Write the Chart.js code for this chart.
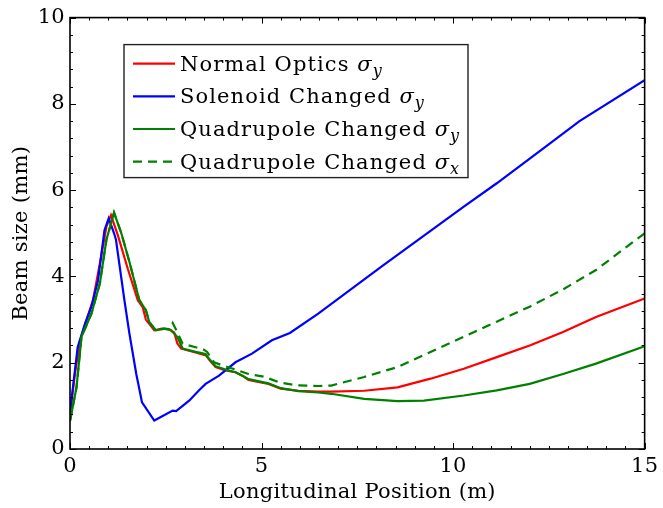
<!DOCTYPE html>
<html><head><meta charset="utf-8">
<script src="https://cdn.jsdelivr.net/npm/chart.js@4/dist/chart.umd.min.js"></script>
<style>html,body{margin:0;padding:0;background:#fff}</style>
</head><body>
<canvas id="c" width="663" height="508"></canvas>
<script>
// ---- data ----
const xTitle = 'Longitudinal Position (m)';
const yTitle = 'Beam size (mm)';
const seriesNames = ['Normal Optics ', 'Solenoid Changed ', 'Quadrupole Changed ', 'Quadrupole Changed '];
const seriesSubs = ['y', 'y', 'y', 'x'];

const redX = [0, 0.13, 0.26, 0.47, 0.6, 0.78, 0.95, 1.07, 1.25, 1.5, 1.77, 1.9, 1.98, 2.2, 2.4, 2.6, 2.72, 2.8, 2.9, 3.3, 3.55, 3.65, 3.8, 4.06, 4.32, 4.5, 4.66, 5.18, 5.5, 5.96, 6.48, 6.82, 7.68, 8.55, 9.41, 10.28, 11.14, 12.0, 12.87, 13.73, 15];
const redY = [0.8, 1.75, 2.5, 3.1, 3.45, 4.3, 5.15, 5.42, 4.95, 4.2, 3.45, 3.28, 3.0, 2.75, 2.79, 2.77, 2.7, 2.45, 2.33, 2.23, 2.17, 2.05, 1.9, 1.82, 1.78, 1.7, 1.6, 1.51, 1.4, 1.35, 1.33, 1.33, 1.35, 1.43, 1.63, 1.86, 2.13, 2.4, 2.71, 3.06, 3.49];

const blueX = [0, 0.2, 0.39, 0.56, 0.73, 0.9, 1.01, 1.15, 1.2, 1.42, 1.55, 1.73, 1.88, 2.2, 2.68, 2.77, 3.11, 3.37, 3.54, 3.89, 4.32, 4.75, 5.27, 5.74, 6.48, 8.12, 10.28, 11.14, 12.4, 13.3, 15];
const blueY = [0.85, 2.36, 2.9, 3.3, 3.9, 5.07, 5.35, 5.0, 4.85, 3.45, 2.68, 1.74, 1.08, 0.66, 0.89, 0.88, 1.12, 1.36, 1.51, 1.7, 2.01, 2.21, 2.52, 2.69, 3.14, 4.22, 5.62, 6.16, 7.0, 7.6, 8.55];

const greenX = [0, 0.17, 0.3, 0.56, 0.78, 0.95, 1.15, 1.34, 1.55, 1.81, 1.98, 2.07, 2.24, 2.46, 2.63, 2.8, 2.94, 3.28, 3.54, 3.63, 3.8, 4.06, 4.32, 4.5, 4.66, 5.18, 5.5, 5.96, 6.48, 6.82, 7.68, 8.55, 9.24, 10.28, 11.14, 12.0, 12.87, 13.73, 15];
const greenY = [0.65, 1.43, 2.6, 3.14, 3.84, 4.85, 5.48, 5.0, 4.34, 3.45, 3.22, 2.94, 2.75, 2.79, 2.76, 2.6, 2.33, 2.25, 2.2, 2.09, 1.92, 1.84, 1.78, 1.7, 1.62, 1.52, 1.41, 1.34, 1.31, 1.28, 1.16, 1.11, 1.12, 1.24, 1.36, 1.51, 1.74, 1.98, 2.38];

const dashX = [0, 0.17, 0.3, 0.56, 0.78, 0.95, 1.15, 1.34, 1.55, 1.81, 1.98, 2.07, 2.24, 2.46, 2.6, 2.68, 2.75, 2.94, 3.28, 3.5, 3.58, 3.76, 3.97, 4.32, 4.66, 5.09, 5.44, 5.87, 6.48, 6.82, 7.68, 8.55, 9.41, 10.28, 11.14, 12.0, 12.87, 13.73, 15];
const dashY = [0.65, 1.43, 2.6, 3.14, 3.84, 4.85, 5.48, 5.0, 4.34, 3.45, 3.22, 2.94, 2.75, 2.79, 2.78, 2.92, 2.8, 2.44, 2.36, 2.3, 2.25, 2.01, 1.94, 1.84, 1.74, 1.67, 1.55, 1.48, 1.46, 1.47, 1.67, 1.9, 2.25, 2.6, 2.95, 3.3, 3.7, 4.15, 5.0];

const xMajorStep = 5, xMinorStep = 0.5, yMajorStep = 2, yMinorStep = 0.4;

const pts = (xs, ys) => xs.map((x, i) => ({x, y: ys[i]}));

const FONT = '"DejaVu Serif", serif';
const SPACING = '0.3px';

const boxPlugin = {
  id: 'boxTicks',
  beforeDraw(chart) { chart.ctx.letterSpacing = SPACING; },
  afterDraw(chart) {
    const {ctx, chartArea: a, scales: {x, y}} = chart;
    ctx.save();
    ctx.letterSpacing = '0px';
    ctx.strokeStyle = '#000';
    ctx.lineWidth = 1;
    const tick = (px, py, dx, dy) => { ctx.beginPath(); ctx.moveTo(px, py); ctx.lineTo(px + dx, py + dy); ctx.stroke(); };
    for (let v = x.min; v <= x.max + 1e-9; v += xMinorStep) {
      const major = Math.abs(v / xMajorStep - Math.round(v / xMajorStep)) < 1e-6;
      const L = major ? 6 : 3;
      const px = Math.round(x.getPixelForValue(v)) + 0.5;
      tick(px, a.bottom, 0, -L);
      tick(px, a.top, 0, L);
    }
    for (let v = y.min; v <= y.max + 1e-9; v += yMinorStep) {
      const major = Math.abs(v / yMajorStep - Math.round(v / yMajorStep)) < 1e-6;
      const L = major ? 6 : 3;
      const py = Math.round(y.getPixelForValue(v)) + 0.5;
      tick(a.left, py, L, 0);
      tick(a.right, py, -L, 0);
    }
    ctx.lineWidth = 1.6;
    ctx.strokeRect(a.left, a.top, a.right - a.left, a.bottom - a.top);

    // legend
    const lx = a.left + 54, ly = a.top + 27, lw = 344, lh = 133;
    ctx.fillStyle = '#fff';
    ctx.fillRect(lx, ly, lw, lh);
    ctx.lineWidth = 1.4;
    ctx.strokeStyle = '#222';
    ctx.strokeRect(lx, ly, lw, lh);
    chart.data.datasets.forEach((ds, i) => {
      const cy = ly + 19 + i * 32.7;
      ctx.strokeStyle = ds.borderColor;
      ctx.lineWidth = 2.2;
      ctx.setLineDash(ds.borderDash || []);
      ctx.beginPath(); ctx.moveTo(lx + 9, cy); ctx.lineTo(lx + 51, cy); ctx.stroke();
      ctx.setLineDash([]);
      ctx.fillStyle = '#000';
      ctx.textBaseline = 'alphabetic';
      ctx.textAlign = 'left';
      ctx.letterSpacing = '1.1px';
      ctx.font = '21px ' + FONT;
      let tx = lx + 56;
      const by = cy + 7;
      ctx.fillText(seriesNames[i], tx, by);
      tx += ctx.measureText(seriesNames[i]).width;
      ctx.letterSpacing = '0px';
      ctx.font = 'italic 21px ' + FONT;
      ctx.fillText('σ', tx, by);
      tx += ctx.measureText('σ').width + 1;
      ctx.font = 'italic 16px ' + FONT;
      ctx.fillText(seriesSubs[i], tx, by + 5);
    });
    ctx.restore();
  }
};

const tickFont = {family: FONT, size: 21};
new Chart(document.getElementById('c'), {
  type: 'scatter',
  data: {
    datasets: [
      {label: 'Normal Optics σy', data: pts(redX, redY), borderColor: '#ff0000', order: 4},
      {label: 'Solenoid Changed σy', data: pts(blueX, blueY), borderColor: '#0000ff', order: 3},
      {label: 'Quadrupole Changed σy', data: pts(greenX, greenY), borderColor: '#008000', order: 2},
      {label: 'Quadrupole Changed σx', data: pts(dashX, dashY), borderColor: '#008000', borderDash: [9, 6], order: 1}
    ].map(d => Object.assign({showLine: true, pointRadius: 0, borderWidth: 2.2, fill: false, tension: 0, backgroundColor: d.borderColor}, d))
  },
  options: {
    responsive: false,
    animation: false,
    devicePixelRatio: 1,
    layout: {padding: {top: 17, right: 14, bottom: 0, left: 0}},
    plugins: {legend: {display: false}, tooltip: {enabled: false}},
    scales: {
      x: {
        type: 'linear', min: 0, max: 15,
        ticks: {stepSize: xMajorStep, font: tickFont, color: '#000', padding: 5, maxRotation: 0},
        grid: {display: false, drawTicks: false},
        border: {display: false},
        title: {display: true, text: xTitle, font: tickFont, color: '#000', padding: {top: 0, bottom: 3}},
        afterFit(s) { s.height = 59; }
      },
      y: {
        type: 'linear', min: 0, max: 10,
        ticks: {stepSize: yMajorStep, font: tickFont, color: '#000', padding: 5},
        grid: {display: false, drawTicks: false},
        border: {display: false},
        title: {display: true, text: yTitle, font: tickFont, color: '#000', padding: {top: 9, bottom: 0}},
        afterFit(s) { s.width = 70; }
      }
    }
  },
  plugins: [boxPlugin]
});
</script>
</body></html>
